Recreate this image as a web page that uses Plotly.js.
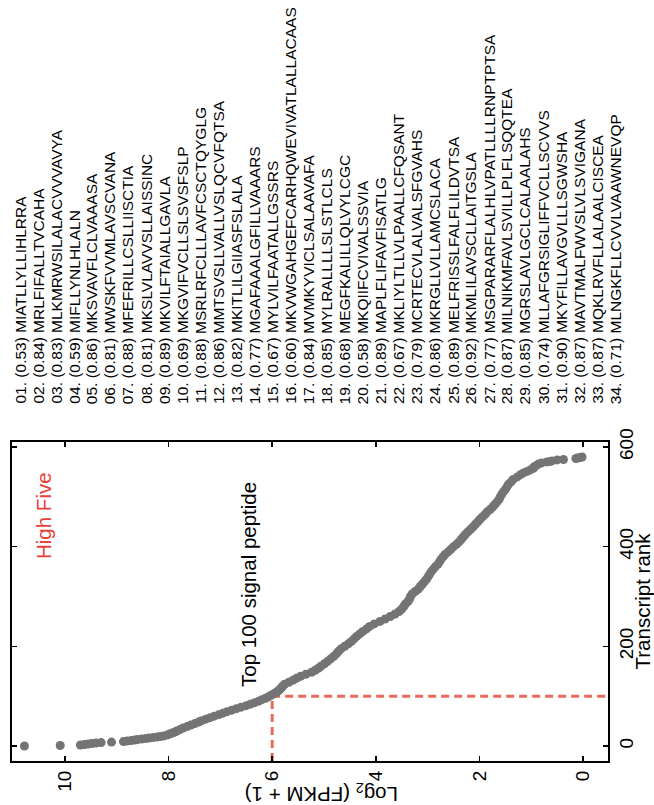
<!DOCTYPE html>
<html>
<head>
<meta charset="utf-8">
<script src="https://cdn.plot.ly/plotly-3.0.1.min.js"></script>
<style>
  html, body { margin: 0; padding: 0; background: #ffffff; }
  #chart { width: 654px; height: 805px; }
</style>
</head>
<body>
<div id="chart"></div>
<script>
// ---- Data ----
// Transcript rank (sampled where the dense curve overlaps) and log2(FPKM + 1)
const ranks = [
  0,1,2,3,4,5,6,7,8,9,10,11,12,13,14,15,16,17,18,19,20,22,24,26,28,30,33,36,39,42,45,48,51,54,57,60,
  63,66,69,72,75,78,81,84,87,90,93,96,99,102,105,108,111,114,117,120,124,128,132,136,140,144,148,152,156,160,
  165,170,175,180,185,190,195,200,205,210,215,220,225,230,235,240,245,250,255,260,265,270,275,280,285,290,295,300,
  305,310,315,320,325,330,335,340,345,350,355,360,365,370,375,380,385,390,395,400,405,410,415,420,425,430,435,440,
  445,450,455,460,465,470,475,480,485,490,495,500,505,510,515,520,525,530,535,540,545,548,551,554,557,560,563,566,
  568,570,571,572,574,575,577,578,579,580
];
const log2fpkm = [
  10.78,10.09,9.70,9.62,9.55,9.48,9.40,9.30,9.10,8.87,8.80,8.72,8.65,8.60,8.52,8.44,8.38,8.30,8.22,8.16,8.10,8.03,7.98,7.93,7.88,7.84,7.78,7.72,7.64,7.57,7.49,7.42,7.36,7.28,7.20,7.12,
  7.03,6.95,6.87,6.78,6.69,6.60,6.50,6.42,6.34,6.26,6.20,6.13,6.07,6.02,5.97,5.92,5.88,5.85,5.82,5.80,5.76,5.68,5.60,5.53,5.45,5.35,5.24,5.17,5.11,5.06,
  4.99,4.93,4.87,4.81,4.76,4.72,4.67,4.60,4.53,4.47,4.42,4.37,4.31,4.25,4.18,4.12,4.03,3.92,3.82,3.72,3.63,3.55,3.50,3.46,3.43,3.38,3.35,3.33,
  3.30,3.24,3.18,3.14,3.10,3.06,3.02,2.99,2.96,2.93,2.89,2.85,2.80,2.77,2.74,2.70,2.66,2.60,2.55,2.50,2.44,2.39,2.35,2.31,2.27,2.22,2.17,2.12,
  2.08,2.03,1.99,1.94,1.89,1.85,1.79,1.74,1.70,1.66,1.62,1.60,1.57,1.54,1.50,1.47,1.44,1.39,1.35,1.27,1.20,1.15,1.08,1.02,0.96,0.95,0.90,0.86,
  0.80,0.70,0.64,0.60,0.50,0.38,0.14,0.10,0.06,0.02
];

// Cut-off marking the top-100 signal peptides
const topN = 100;
const cutoffLog2 = 6;

// Signal-peptide list (number, score, sequence)
const pepIds = ["01","02","03","04","05","06","07","08","09","10","11","12","13","14","15","16","17",
                "18","19","20","21","22","23","24","25","26","27","28","29","30","31","32","33","34"];
const pepScores = ["0.53","0.84","0.83","0.59","0.86","0.81","0.88","0.81","0.89","0.69","0.88","0.86","0.82","0.77","0.67","0.60","0.84",
                   "0.85","0.68","0.58","0.89","0.67","0.79","0.86","0.89","0.92","0.77","0.87","0.85","0.74","0.90","0.87","0.87","0.71"];
const pepSeqs = [
  "MIATLLYLLIHLRRA","MRLFIFALLTVCAHA","MLKMRWSILALACVVVAVYA","MIFLLYNLHLALN","MKSVAVFLCLVAAASA",
  "MWSKFVVMLAVSCVANA","MFEFRILLCSLLIISCTIA","MKSLVLAVVSLLAISSINC","MKVILFTAIALLGAVLA","MKGVIFVCLLSLSVSFSLP",
  "MSRLRFCLLLAVFCSCTQYGLG","MMTSVSLLVALLVSLQCVFQTSA","MKITLILGIIASFSLALA","MGAFAAALGFILLVAAARS","MYLVILFAATALLGSSRS",
  "MKVWGAHGEFCARHQWEVIVATLALLACAAS","MVMKYVICLSALAAVAFA","MYLRALLLLSLSTLCLS","MEGFKALILLQLVYLCGC","MKQIIFCVIVALSSVIA",
  "MAPLFLIFAVFISATLG","MKLIYLTLLVLPAALLCFQSANT","MCRTECVLALVALSFGVAHS","MKRGLLVLLAMCSLACA","MELFRISSLFALFLILDVTSA",
  "MKMLILAVSCLLAITGSLA","MSGPARARFLALHLVPATLLLLRNPTPTSA","MILNIKMFAVLSVILLPLFLSQQTEA","MGRSLAVLGCLCALAALAHS","MLLAFGRSIGLIFFVCLLSCVVS",
  "MKYFILLAVGVLLLSGWSHA","MAVTMALFWVSLVLSVIGANA","MQKLRVFLLALAALCISCEA","MLNGKFLLCVVLVAAWNEVQP"
];

const xTicks = [0, 2, 4, 6, 8, 10];
const yTicks = [0, 200, 400, 600];

// ---- Styling / layout ----
const FONT = "Liberation Sans, Arial, Helvetica, sans-serif";
const W = 654, H = 805;
const M = { l: 12, r: 46, t: 442, b: 44 };
const plotW = W - M.l - M.r, plotH = H - M.t - M.b;
const xRange = [11.02, -0.48];
const yRange = [-30, 610];

const redDash = "#e8695e";

const traces = [
  { // vertical dashed line at the cut-off
    x: [cutoffLog2, cutoffLog2], y: [yRange[0], topN],
    mode: "lines", line: { color: redDash, width: 3, dash: "8px,5px" },
    hoverinfo: "skip", showlegend: false
  },
  { // horizontal dashed line at rank 100
    x: [cutoffLog2, xRange[1]], y: [topN, topN],
    mode: "lines", line: { color: redDash, width: 3, dash: "8px,5px" },
    hoverinfo: "skip", showlegend: false
  },
  {
    x: log2fpkm, y: ranks, mode: "markers", type: "scatter",
    marker: { color: "#747474", size: 9, line: { width: 0 } },
    showlegend: false
  }
];

// helper: pixel -> paper
const px2x = px => (px - M.l) / plotW;
const py2y = py => (H - M.b - py) / plotH;

const annotations = [];
pepIds.forEach((id, i) => {
  annotations.push({
    xref: "paper", yref: "paper",
    x: px2x(19.5 + i * 18.05), y: py2y(406),
    xanchor: "center", yanchor: "bottom",
    text: id + ". (" + pepScores[i] + ") " + pepSeqs[i],
    textangle: -90, showarrow: false,
    font: { family: FONT, size: 15.5, color: "#000000" }
  });
});
annotations.push({
  xref: "paper", yref: "paper", x: px2x(43), y: py2y(516),
  xanchor: "center", yanchor: "middle",
  text: "High Five", textangle: -90, showarrow: false,
  font: { family: FONT, size: 20.5, color: "#e8413a" }
});
annotations.push({
  xref: "paper", yref: "paper", x: px2x(248), y: py2y(585),
  xanchor: "center", yanchor: "middle",
  text: "Top 100 signal peptide", textangle: -90, showarrow: false,
  font: { family: FONT, size: 20.5, color: "#000000" }
});
annotations.push({
  xref: "paper", yref: "paper", x: px2x(322), y: py2y(793),
  xanchor: "center", yanchor: "middle",
  text: "Log<sub>2</sub> (FPKM + 1)", textangle: 180, showarrow: false,
  font: { family: FONT, size: 20.5, color: "#000000" }
});

const axisCommon = {
  showgrid: false, zeroline: false,
  showline: true, linecolor: "#000000", linewidth: 2,
  mirror: "ticks", ticks: "inside", ticklen: 5, tickwidth: 1.5, tickcolor: "#000000",
  tickfont: { family: FONT, size: 19, color: "#000000" },
  tickangle: -90, automargin: false, fixedrange: true
};

const layout = {
  width: W, height: H,
  margin: M,
  paper_bgcolor: "#ffffff", plot_bgcolor: "#ffffff",
  font: { family: FONT, color: "#000000" },
  xaxis: Object.assign({}, axisCommon, {
    range: xRange, tickvals: xTicks, ticktext: xTicks.map(String)
  }),
  yaxis: Object.assign({}, axisCommon, {
    range: yRange, side: "right", tickvals: yTicks, ticktext: yTicks.map(String),
    title: { text: "Transcript rank", font: { family: FONT, size: 20.5, color: "#000000" }, standoff: 2 }
  }),
  annotations: annotations,
  showlegend: false
};

Plotly.newPlot("chart", traces, layout, { displayModeBar: false, staticPlot: true });
</script>
</body>
</html>
